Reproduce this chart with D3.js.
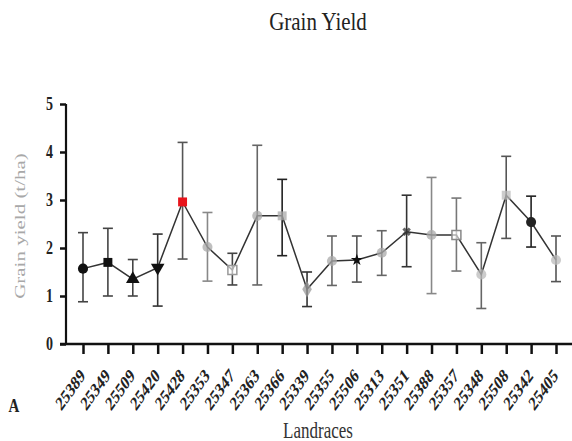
<!DOCTYPE html>
<html><head><meta charset="utf-8">
<script src="https://cdn.jsdelivr.net/npm/d3@7"></script>
<style>body{margin:0;background:#fff}svg{display:block} text{font-family:"Liberation Serif","Times New Roman",serif}</style>
</head><body>
<svg id="c" width="572" height="441"></svg>
<script>
const categories = ["25389","25349","25509","25420","25428","25353","25347","25363","25366","25339","25355","25506","25313","25351","25388","25357","25348","25508","25342","25405"];
const means = [1.57,1.70,1.35,1.59,2.96,2.02,1.54,2.67,2.67,1.14,1.73,1.75,1.90,2.34,2.27,2.27,1.45,3.10,2.54,1.75];
const upper = [2.32,2.41,1.76,2.29,4.20,2.74,1.89,4.14,3.43,1.50,2.25,2.25,2.36,3.10,3.47,3.04,2.11,3.91,3.08,2.25];
const lower = [0.88,1.00,1.00,0.79,1.77,1.31,1.23,1.23,1.84,0.78,1.22,1.29,1.43,1.61,1.05,1.52,0.74,2.20,2.02,1.30];
const markerShapes = ["circle","square","triangle","triangleDown","square","circle","squareOpen","circle","square","diamond","circle","star","circle","cross","circle","squareOpen","circle","square","circle","circle"];
const markerColors = ["#111","#111","#111","#111","#e8141b","#aaa","#999","#aaa","#aaa","#999","#aaa","#111","#aaa","#333","#aaa","#888","#bbb","#bbb","#222","#bbb"];
const barColors = ["#444","#444","#444","#333","#555","#888","#444","#666","#222","#333","#666","#555","#666","#333","#888","#777","#666","#555","#222","#555"];
const yTicks = [0,1,2,3,4,5];

const svg = d3.select("#c");
const serif = "'Liberation Serif','Times New Roman',serif";
const x = d3.scalePoint().domain(categories).range([83, 556]);
const y = d3.scaleLinear().domain([0,5]).range([344, 104]);

// Title
svg.append("text").attr("transform","translate(318,30) scale(1,1.15)").attr("text-anchor","middle")
  .style("font-family", serif).attr("font-size", 21).attr("fill","#222").text("Grain Yield");

// Y axis
const yAxis = svg.append("g").attr("transform","translate(66,0)")
  .call(d3.axisLeft(y).tickValues(yTicks).tickSize(6).tickPadding(7).tickFormat(d3.format("d")));
yAxis.attr("font-family", null);
yAxis.select(".domain").attr("stroke","#111").attr("stroke-width",2.2).attr("d","M0,104V344");
yAxis.selectAll(".tick line").attr("stroke","#111").attr("stroke-width",2.5);
yAxis.selectAll(".tick text").style("font-family",serif).attr("font-size",14).attr("font-weight","bold").attr("fill","#222")
  .attr("dy",null).attr("transform","translate(0,5) scale(1,1.3)");

// X axis
const xAxis = svg.append("g").attr("transform","translate(0,344)")
  .call(d3.axisBottom(x).tickSize(10).tickPadding(0));
xAxis.attr("font-family", null);
xAxis.select(".domain").attr("stroke","#111").attr("stroke-width",2.5).attr("d","M60,0H572");
xAxis.selectAll(".tick line").attr("stroke","#111").attr("stroke-width",2.5);
xAxis.selectAll(".tick text").style("font-family",serif).attr("font-size",14).attr("font-weight","bold").attr("fill","#222")
  .attr("text-anchor","end").attr("x",0).attr("y",0).attr("dy","0.35em")
  .attr("transform","translate(-1,28) scale(1,1.4) rotate(-45)");

// Axis labels
svg.append("text").attr("transform","translate(25,226) scale(1,1.4) rotate(-90)").attr("text-anchor","middle")
  .style("font-family",serif).attr("font-size",15).attr("fill","#a8a8a8").text("Grain yield (t/ha)");
svg.append("text").attr("transform","translate(318,438) scale(1,1.3)").attr("text-anchor","middle")
  .style("font-family",serif).attr("font-size",17).attr("fill","#333").text("Landraces");
svg.append("text").attr("transform","translate(14,412) scale(1,1.3)").attr("text-anchor","middle")
  .style("font-family",serif).attr("font-size",15).attr("font-weight","bold").attr("fill","#222").text("A");

// Error bars
const eb = svg.append("g");
categories.forEach((c,i)=>{
  const cx = x(c);
  const g = eb.append("g").attr("stroke", barColors[i]).attr("stroke-width",1.6);
  g.append("line").attr("x1",cx).attr("x2",cx).attr("y1",y(upper[i])).attr("y2",y(lower[i]));
  g.append("line").attr("x1",cx-5).attr("x2",cx+5).attr("y1",y(upper[i])).attr("y2",y(upper[i]));
  g.append("line").attr("x1",cx-5).attr("x2",cx+5).attr("y1",y(lower[i])).attr("y2",y(lower[i]));
});

// Line
const line = d3.line().x((d,i)=>x(categories[i])).y(d=>y(d));
svg.append("path").datum(means).attr("d",line).attr("fill","none").attr("stroke","#333").attr("stroke-width",1.5);

// Markers
const symMap = {circle:d3.symbolCircle, square:d3.symbolSquare, squareOpen:d3.symbolSquare, triangle:d3.symbolTriangle,
  triangleDown:d3.symbolTriangle, diamond:d3.symbolDiamond, star:d3.symbolStar, cross:d3.symbolCross};
categories.forEach((c,i)=>{
  const s = markerShapes[i];
  const size = (s==="star"||s==="cross") ? 45 : 80;
  const p = svg.append("path").attr("d", d3.symbol().type(symMap[s]).size(size)())
    .attr("transform", `translate(${x(c)},${y(means[i])})` + (s==="triangleDown" ? " rotate(180)" : "") + (s==="cross" ? " rotate(45)" : ""));
  if (s==="squareOpen") p.attr("fill","#fff").attr("fill-opacity",0.6).attr("stroke",markerColors[i]).attr("stroke-width",1.5);
  else p.attr("fill",markerColors[i]).attr("fill-opacity", markerColors[i]==="#111"||markerColors[i]==="#e8141b"||markerColors[i]==="#222"?1:0.75);
});
</script>
</body></html>
